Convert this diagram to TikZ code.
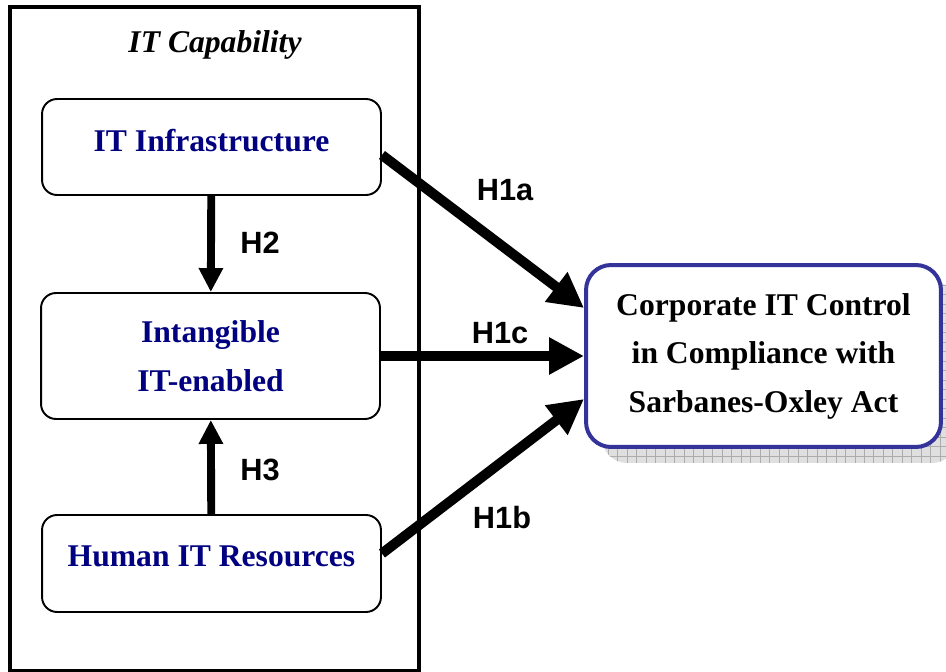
\documentclass[tikz,border=0pt]{standalone}
\usepackage{fontspec}
\setmainfont{Liberation Serif}
\setsansfont{Liberation Sans}
\usetikzlibrary{arrows.meta}
\definecolor{capnavy}{RGB}{0,0,128}
\definecolor{soxblue}{RGB}{51,51,153}
\tikzset{
	capbox/.style={draw,line width=1.1pt,rounded corners=0.3cm,minimum width=6.78cm,align=center,text=capnavy,font=\fontsize{18}{27.6}\selectfont\bfseries},
	hlabel/.style={font=\fontsize{17.5}{20}\selectfont\sffamily\bfseries},
	bigarrow/.style={line width=5.7pt,-{Triangle[length=0.7cm,width=0.7cm]}},
	smallarrow/.style={line width=4.5pt,-{Triangle[length=0.48cm,width=0.46cm]}}
}

\begin{document}
\begin{tikzpicture}[x=0.02cm,y=-0.02cm]
	\useasboundingbox (0,0) rectangle (946,672);
	\draw[line width=2.27pt] (10,7) rectangle (419,671);
	\node[font=\fontsize{18}{20}\selectfont\bfseries\itshape] (title) at (215,45) {IT Capability};

	\node[capbox,minimum height=1.92cm,text depth=0.28cm] (infra) at (211.5,147) {IT Infrastructure};
	\node[capbox,minimum height=2.52cm] (enabled) at (210.5,356) {Intangible\\IT-enabled};
	\node[capbox,minimum height=1.94cm,text depth=0.28cm] (human) at (211.5,563.5) {Human IT Resources};

	\begin{scope}
		\clip[rounded corners=0.5cm] (602,281) rectangle (957,463);
		\fill[gray!25] (602,281) rectangle (957,463);
		\draw[gray!65,line width=0.4pt,step=0.19cm] (602,463) grid (957,281);
	\end{scope}
	\node[draw=soxblue,line width=2.27pt,fill=white,rounded corners=0.5cm,minimum width=7.1cm,minimum height=3.64cm,align=center,font=\fontsize{18}{27.6}\selectfont\bfseries] (sox) at (763.5,356) {Corporate IT Control\\in Compliance with\\Sarbanes-Oxley Act};

	\draw[smallarrow] (infra) -- (enabled);
	\draw[smallarrow] (human) -- (enabled);
	\draw[bigarrow] ([yshift=-0.16cm]infra.east) -- ([yshift=0.96cm]sox.west);
	\draw[bigarrow] (enabled.east) -- (sox.west);
	\draw[bigarrow] ([yshift=0.2cm]human.east) -- ([yshift=-0.86cm]sox.west);

	\node[hlabel] (h1a) at (505,190) {H1a};
	\node[hlabel] (h1c) at (500,333) {H1c};
	\node[hlabel] (h1b) at (502,518) {H1b};
	\node[hlabel] (h2) at (260,243) {H2};
	\node[hlabel] (h3) at (260,470) {H3};
\end{tikzpicture}
\end{document}
